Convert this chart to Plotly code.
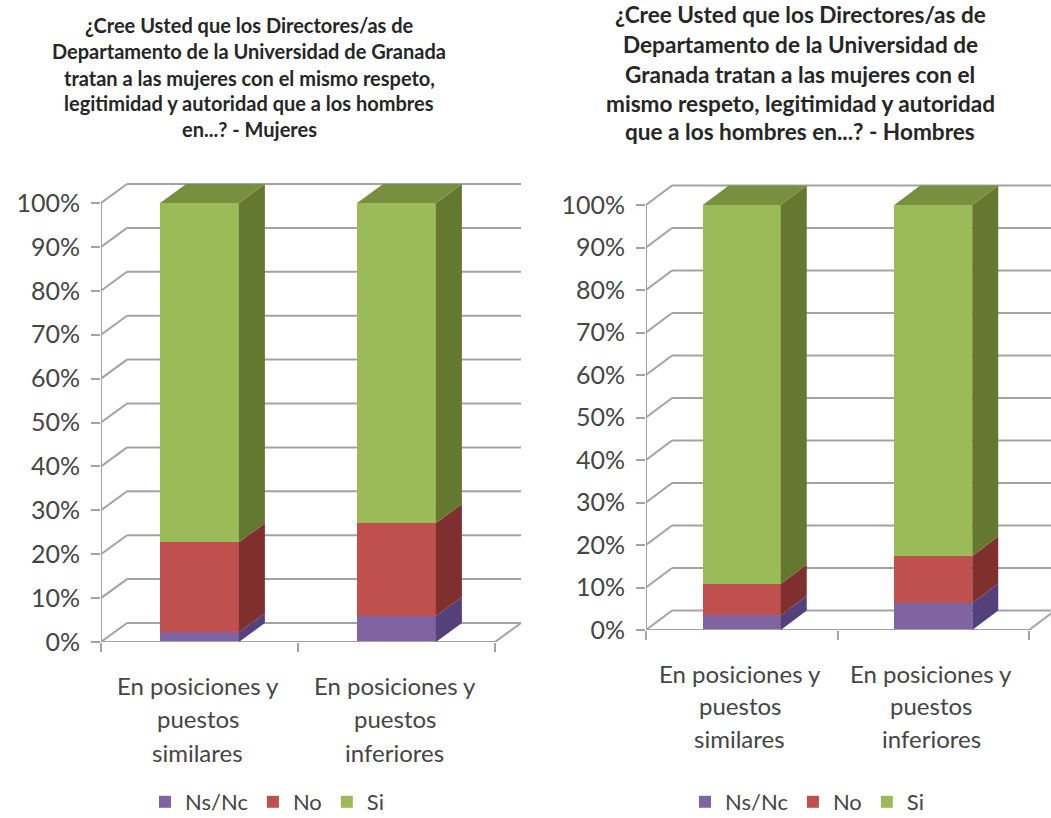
import plotly.graph_objects as go

FONT = "Lato"
W, H = 1051, 818
GRID = "#a3a3a3"
TEXT = "#454545"

bar_positions = [0.5, 1.5]
category_lines = [["En posiciones y", "puestos", "similares"],
                  ["En posiciones y", "puestos", "inferiores"]]
pct_ticks = [0, 10, 20, 30, 40, 50, 60, 70, 80, 90, 100]
pct_labels = ["0%", "10%", "20%", "30%", "40%", "50%", "60%", "70%", "80%", "90%", "100%"]
series_names = ["Ns/Nc", "No", "Si"]

mujeres_nsnc = [2.2, 5.9]
mujeres_no = [20.5, 21.2]
mujeres_si = [77.3, 72.9]

hombres_nsnc = [3.5, 6.3]
hombres_no = [7.3, 11.1]
hombres_si = [89.2, 82.6]

titulo_mujeres = ["¿Cree Usted que los Directores/as de",
                  "Departamento de la Universidad de Granada",
                  "tratan a las mujeres con el mismo respeto,",
                  "legitimidad y autoridad que a los hombres",
                  "en...? - Mujeres"]
titulo_hombres = ["¿Cree Usted que los Directores/as de",
                  "Departamento de la Universidad de",
                  "Granada tratan a las mujeres con el",
                  "mismo respeto, legitimidad y autoridad",
                  "que a los hombres en...? - Hombres"]

FRONT = ["#8064A2", "#C0504D", "#9BBB59"]
SIDE = ["#54407A", "#7F302E", "#64792F"]
TOP = "#778F3F"

fig = go.Figure()
annotations = []
shapes = []


def panel(idx, series, title, title_x, title_ys, title_size, x0_px, unit_x, y0_px, unit_y,
          right_px, top_px, dx_px, dy_px, bar_w, label_ys, legend_name, legend_x):
    ax = "" if idx == 1 else str(idx)
    xa, ya = f"x{ax}", f"y{ax}"
    dx, dy = dx_px / unit_x, dy_px / unit_y

    fig.update_layout({
        f"xaxis{ax}": dict(domain=[x0_px / W, right_px / W], range=[0, (right_px - x0_px) / unit_x],
                           anchor=ya, tickvals=[0, 1, 2], ticks="outside", ticklen=9, tickwidth=2,
                           tickcolor=GRID, showticklabels=False, showgrid=False, zeroline=False,
                           showline=False, fixedrange=True, automargin=False),
        f"yaxis{ax}": dict(domain=[(H - y0_px) / H, (H - top_px) / H],
                           range=[0, (y0_px - top_px) / unit_y], anchor=xa, tickvals=pct_ticks,
                           ticktext=pct_labels, ticks="outside", ticklen=9, tickwidth=2, tickcolor=GRID,
                           ticklabelstandoff=6, automargin=False,
                           tickfont=dict(family=FONT, size=25, color=TEXT), showgrid=False,
                           zeroline=False, showline=False, fixedrange=True),
    })

    # back wall and side-wall gridlines
    for t in pct_ticks:
        shapes.append(dict(type="line", xref=xa, yref=ya, x0=0, y0=t, x1=dx, y1=t + dy, layer="below",
                           line=dict(color=GRID, width=2)))
        shapes.append(dict(type="line", xref=xa, yref=ya, x0=dx, y0=t + dy, x1=2 + dx, y1=t + dy,
                           layer="below", line=dict(color=GRID, width=2)))
    shapes.append(dict(type="line", xref=xa, yref=ya, x0=2, y0=0, x1=2 + dx, y1=dy, layer="below",
                       line=dict(color=GRID, width=2)))

    # axis lines
    fig.add_trace(go.Scatter(x=[0, 0, 2], y=[pct_ticks[-1], 0, 0], xaxis=xa, yaxis=ya, mode="lines",
                             line=dict(color=GRID, width=2), cliponaxis=False, showlegend=False,
                             hoverinfo="skip"))

    # front faces
    for name, vals, col in zip(series_names, series, FRONT):
        fig.add_trace(go.Bar(x=bar_positions, y=vals, name=name, width=bar_w, xaxis=xa, yaxis=ya,
                             marker=dict(color=col, line=dict(width=0)), legend=legend_name))

    # depth faces computed from the stacked values
    for i, cx in enumerate(bar_positions):
        left, right = cx - bar_w / 2, cx + bar_w / 2
        base = 0
        for vals, col in zip(series, SIDE):
            top = base + vals[i]
            fig.add_trace(go.Scatter(x=[right, right + dx, right + dx, right, right],
                                     y=[base, base + dy, top + dy, top, base], xaxis=xa, yaxis=ya,
                                     mode="lines", fill="toself", fillcolor=col, line=dict(width=0),
                                     showlegend=False, hoverinfo="skip"))
            base = top
        fig.add_trace(go.Scatter(x=[left, right, right + dx, left + dx, left],
                                 y=[base, base, base + dy, base + dy, base], xaxis=xa, yaxis=ya,
                                 mode="lines", fill="toself", fillcolor=TOP, line=dict(width=0),
                                 showlegend=False, hoverinfo="skip"))

    # category labels, one text per line to keep the wide leading
    for cx, lines in zip(bar_positions, category_lines):
        for line, ly in zip(lines, label_ys):
            annotations.append(dict(text=line, xref=xa, x=cx - 0.01, yref="paper", y=(H - ly) / H,
                                    xanchor="center", yanchor="middle", showarrow=False,
                                    font=dict(family=FONT, size=24, color=TEXT)))
    # title
    for line, ly in zip(title, title_ys):
        annotations.append(dict(text=f"<b>{line}</b>", xref="paper", x=title_x / W, yref="paper",
                                y=(H - ly) / H, xanchor="center", yanchor="middle", showarrow=False,
                                font=dict(family=FONT, size=title_size, color="#262626")))

    fig.update_layout({legend_name: dict(orientation="h", x=legend_x / W, y=(H - 802) / H,
                                         xanchor="left", yanchor="middle", traceorder="normal",
                                         bgcolor="rgba(0,0,0,0)", font=dict(family=FONT, size=22, color=TEXT),
                                         itemwidth=30)})


panel(1, [mujeres_nsnc, mujeres_no, mujeres_si], titulo_mujeres, 249, [25, 51, 78, 103, 129], 20,
      101, 197, 642, 4.39, 530, 175, 26, 19, 0.40, [685, 718, 752], "legend", 145)
panel(2, [hombres_nsnc, hombres_no, hombres_si], titulo_hombres, 800, [15, 44, 74, 103, 132], 22.6,
      646, 191.5, 630, 4.25, 1051, 175, 26, 19.5, 0.407, [673, 705, 738], "legend2", 685)

fig.update_layout(width=W, height=H, margin=dict(l=0, r=0, t=0, b=0, autoexpand=False), barmode="stack",
                  bargap=0, paper_bgcolor="white", plot_bgcolor="white", annotations=annotations,
                  shapes=shapes, hovermode=False)

fig.write_html("out.html", config=dict(displayModeBar=False),
               post_script="document.body.style.margin='0';")
